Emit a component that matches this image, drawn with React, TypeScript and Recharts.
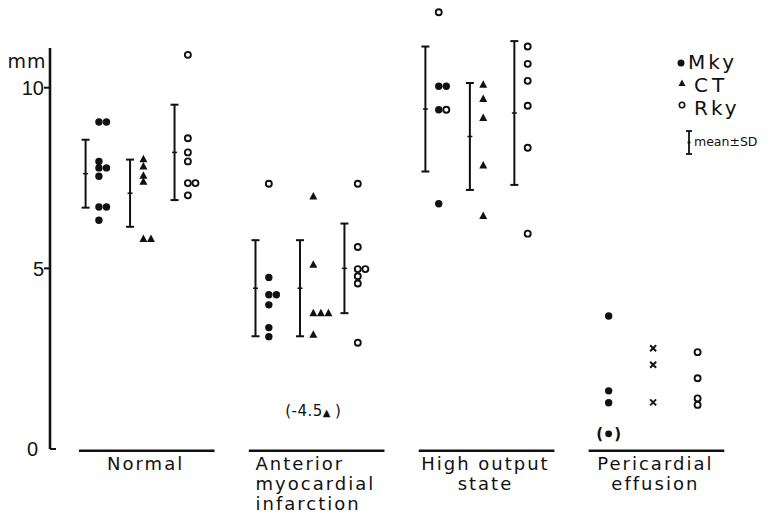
import { ScatterChart, Scatter, XAxis, YAxis, ErrorBar, ReferenceLine, ReferenceDot } from 'recharts';

// group labels, one entry per line
const groupLabels = [['Normal'], ['Anterior', 'myocardial', 'infarction'], ['High output', 'state'], ['Pericardial', 'effusion']];

// individual values (mm), one list per group
const mkyValues = [
  [9.05, 9.05, 7.96, 7.78, 7.78, 7.55, 6.7, 6.7, 6.33],
  [4.75, 4.27, 4.27, 3.99, 3.36, 3.11],
  [10.04, 10.04, 9.39, 6.79],
  [3.68, 1.61, 1.28],
];
// Mky values drawn with an open symbol
const mkyOpenValues = [[], [7.34], [12.09, 9.39], []];
// Mky value given in brackets
const mkyBracketValues = [[], [], [], [0.42]];
const ctValues = [
  [8.02, 7.82, 7.56, 7.4, 5.81, 5.81],
  [6.99, 5.1, 3.76, 3.76, 3.76, 3.16],
  [10.08, 9.69, 9.16, 7.85, 6.45],
  [2.79, 2.33, 1.29],
];
// off-scale value noted as text
const ctOffScaleNote = '(-4.5';
const rkyValues = [
  [10.91, 8.6, 8.21, 7.96, 7.36, 7.36, 7.02],
  [7.34, 5.59, 4.98, 4.98, 4.78, 4.58, 2.94],
  [11.14, 10.66, 10.19, 9.5, 8.34, 5.96],
  [2.68, 1.96, 1.4, 1.22],
];

// mean ± SD (no bars for pericardial effusion)
const mkyMean = [7.62, 4.45, 9.41];
const mkySD = [0.94, 1.33, 1.73];
const ctMean = [7.08, 4.45, 8.65];
const ctSD = [0.93, 1.33, 1.48];
const rkyMean = [8.21, 5.0, 9.3];
const rkySD = [1.32, 1.24, 1.99];

const yTicks = [0, 5, 10];

// layout
const W = 775;
const H = 515;
const X_MIN = -0.8;
const X_MAX = 15.5;
const Y_MAX = 12.4;
const AXIS_TOP = 11.1;
const STEP = 3.82;
const SHIFT = 0.3;
const TIE = 0.17;
const LABEL_POS = 1.35;
const CROSS_GROUP = 3;
const ANNOT_Y = 1.08;
const ink = '#111';
const labelFont = '"DejaVu Sans", sans-serif';

type Pt = { x: number; y: number; sd?: number };

// equal values in one column sit side by side
const placeColumn = (g: number, s: number, lists: number[][]): Pt[][] => {
  const used: number[] = [];
  return lists.map((vals) =>
    vals.map((v) => {
      const k = used.filter((u) => Math.abs(u - v) < 0.05).length;
      used.push(v);
      return { x: g * STEP + s + SHIFT + k * TIE, y: v };
    })
  );
};

const mkyDots: Pt[] = [];
const mkyRings: Pt[] = [];
const mkyBracketed: Pt[] = [];
const ctTriangles: Pt[] = [];
const ctCrosses: Pt[] = [];
const rkyRings: Pt[] = [];

groupLabels.forEach((_, g) => {
  const [a, b, c] = placeColumn(g, 0, [mkyValues[g], mkyOpenValues[g], mkyBracketValues[g]]);
  mkyDots.push(...a);
  mkyRings.push(...b);
  mkyBracketed.push(...c);
  const [t] = placeColumn(g, 1, [ctValues[g]]);
  (g === CROSS_GROUP ? ctCrosses : ctTriangles).push(...t);
  const [r] = placeColumn(g, 2, [rkyValues[g]]);
  rkyRings.push(...r);
});

const meanRows = (means: number[], sds: number[], s: number): Pt[] =>
  means.map((m, g) => ({ x: g * STEP + s, y: m, sd: sds[g] }));

const labelTicks = groupLabels.map((_, g) => g * STEP + LABEL_POS);
const labelAlign = ['middle', 'start', 'middle', 'middle'];

const Dot = (p: any) => <circle cx={p.cx} cy={p.cy} r={3.7} fill={ink} />;
const Ring = (p: any) => <circle cx={p.cx} cy={p.cy} r={3} fill="#fff" stroke={ink} strokeWidth={1.9} />;
const Tri = (p: any) => (
  <polygon points={`${p.cx},${p.cy - 4.5} ${p.cx - 4},${p.cy + 3} ${p.cx + 4},${p.cy + 3}`} fill={ink} />
);
const Cross = (p: any) => (
  <g stroke={ink} strokeWidth={2}>
    <line x1={p.cx - 3} y1={p.cy - 3} x2={p.cx + 3} y2={p.cy + 3} />
    <line x1={p.cx - 3} y1={p.cy + 3} x2={p.cx + 3} y2={p.cy - 3} />
  </g>
);
const Bracketed = (p: any) => (
  <g>
    <circle cx={p.cx} cy={p.cy} r={3.4} fill={ink} />
    <text x={p.cx - 9} y={p.cy + 5} fontSize={15} fontFamily={labelFont} fontWeight="bold" textAnchor="middle" fill={ink}>(</text>
    <text x={p.cx + 9} y={p.cy + 5} fontSize={15} fontFamily={labelFont} fontWeight="bold" textAnchor="middle" fill={ink}>)</text>
  </g>
);
const MeanTick = (p: any) => <line x1={p.cx - 2.5} y1={p.cy} x2={p.cx + 2.5} y2={p.cy} stroke={ink} strokeWidth={1.5} />;

const GroupTick = ({ x, y, payload }: any) => {
  const g = Math.round((payload.value - LABEL_POS) / STEP);
  const lines = groupLabels[g] || [];
  const anchor = labelAlign[g] || 'middle';
  const tx = anchor === 'start' ? x - 60 : x;
  return (
    <text x={tx} y={y + 21} textAnchor={anchor} fontSize={18} fontFamily={labelFont} letterSpacing={2} fill={ink}>
      {lines.map((l, i) => (
        <tspan key={l} x={tx} dy={i === 0 ? 0 : 20}>
          {l}
        </tspan>
      ))}
    </text>
  );
};

const ValueTick = ({ x, y, payload }: any) => {
  const zero = payload.value === 0;
  return (
    <g>
      <line x1={zero ? x : x - 6} y1={y} x2={zero ? x + 6 : x} y2={y} stroke={ink} strokeWidth={2} />
      <text x={zero ? x - 12 : x - 6} y={y} dy="0.36em" textAnchor="end" fontSize={20} fontFamily='"Liberation Sans", sans-serif' fill={ink}>
        {payload.value}
      </text>
    </g>
  );
};

const OffScaleNote = (p: any) => (
  <text x={p.cx} y={p.cy + 6} textAnchor="middle" fontSize={15} fontFamily={labelFont} fill={ink} letterSpacing={0.5}>
    {ctOffScaleNote}
    <tspan fontSize={10}>▲</tspan>
    <tspan dx={4}>)</tspan>
  </text>
);

const LegendOverlay = () => (
  <svg width={W} height={H} style={{ position: 'absolute', left: 0, top: 0, pointerEvents: 'none' }}>
    <text x={27} y={68} textAnchor="middle" fontSize={19} fontFamily={labelFont} letterSpacing={1} fill={ink}>mm</text>
    <circle cx={681} cy={63} r={3.5} fill={ink} />
    <text x={688} y={69} fontSize={20} fontFamily={labelFont} letterSpacing={3} fill={ink}>Mky</text>
    <polygon points="682,79.5 678.5,86 685.5,86" fill={ink} />
    <text x={694} y={92} fontSize={20} fontFamily={labelFont} letterSpacing={4} fill={ink}>CT</text>
    <circle cx={682} cy={105} r={2.7} fill="#fff" stroke={ink} strokeWidth={1.6} />
    <text x={694} y={115} fontSize={20} fontFamily={labelFont} letterSpacing={3} fill={ink}>Rky</text>
    <g stroke={ink} strokeWidth={1.8}>
      <line x1={689} y1={131} x2={689} y2={154} />
      <line x1={686} y1={131} x2={692} y2={131} />
      <line x1={686} y1={154} x2={692} y2={154} />
      <line x1={687.5} y1={142.5} x2={690.5} y2={142.5} />
    </g>
    <text x={694} y={146} fontSize={12.5} fontFamily={labelFont} fill={ink}>mean±SD</text>
  </svg>
);

export default function App() {
  return (
    <div style={{ position: 'absolute', left: 0, top: 0, width: W, height: H, background: '#fff', overflow: 'visible' }}>
      <ScatterChart width={W} height={H} margin={{ top: 1, right: 0, bottom: 0, left: 10 }} style={{ overflow: 'visible' }}>
        <XAxis
          type="number"
          dataKey="x"
          domain={[X_MIN, X_MAX]}
          allowDataOverflow
          ticks={labelTicks}
          interval={0}
          axisLine={false}
          tickLine={false}
          tickSize={0}
          tickMargin={0}
          height={66}
          tick={(p: any) => <GroupTick {...p} />}
        />
        <YAxis
          type="number"
          dataKey="y"
          domain={[0, Y_MAX]}
          allowDataOverflow
          ticks={yTicks}
          interval={0}
          axisLine={false}
          tickLine={false}
          tickSize={0}
          tickMargin={0}
          width={40}
          tick={(p: any) => <ValueTick {...p} />}
        />

        {/* y axis line, stops short of the top */}
        <ReferenceLine segment={[{ x: X_MIN, y: 0 }, { x: X_MIN, y: AXIS_TOP }]} stroke={ink} strokeWidth={2.6} ifOverflow="visible" />

        {/* group underlines */}
        {groupLabels.map((_, g) => (
          <ReferenceLine
            key={g}
            segment={[{ x: g * STEP - 0.15, y: -0.05 }, { x: g * STEP + 2.9, y: -0.05 }]}
            stroke={ink}
            strokeWidth={2.4}
            ifOverflow="visible"
          />
        ))}

        {/* mean ± SD bars */}
        {[
          meanRows(mkyMean, mkySD, 0),
          meanRows(ctMean, ctSD, 1),
          meanRows(rkyMean, rkySD, 2),
        ].map((rows, i) => (
          <Scatter key={i} data={rows} shape={MeanTick} isAnimationActive={false}>
            <ErrorBar dataKey="sd" direction="y" width={4} stroke={ink} strokeWidth={2} isAnimationActive={false} />
          </Scatter>
        ))}

        <Scatter name="Mky" data={mkyDots} shape={Dot} isAnimationActive={false} />
        <Scatter name="Mky open" data={mkyRings} shape={Ring} isAnimationActive={false} />
        <Scatter name="Mky bracketed" data={mkyBracketed} shape={Bracketed} isAnimationActive={false} />
        <Scatter name="CT" data={ctTriangles} shape={Tri} isAnimationActive={false} />
        <Scatter name="CT pericardial" data={ctCrosses} shape={Cross} isAnimationActive={false} />
        <Scatter name="Rky" data={rkyRings} shape={Ring} isAnimationActive={false} />

        <ReferenceDot x={1 * STEP + 1 + SHIFT} y={ANNOT_Y} r={0} shape={OffScaleNote} ifOverflow="visible" />
      </ScatterChart>
      <LegendOverlay />
    </div>
  );
}
